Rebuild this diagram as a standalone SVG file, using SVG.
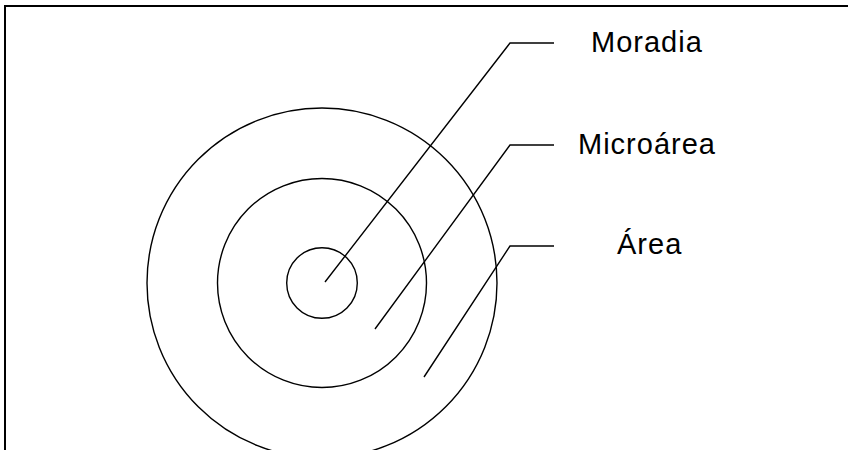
<svg xmlns="http://www.w3.org/2000/svg" width="848" height="450" viewBox="0 0 848 450">
<style>
.ring{fill:none;stroke:#000;stroke-width:1.4}
.lead{fill:none;stroke:#000;stroke-width:1.4}
.lbl{font-family:"Liberation Sans",Arial,sans-serif;font-size:29px;fill:#000;letter-spacing:1px}
</style>
<rect x="0" y="0" width="848" height="450" fill="#fff"/>
<rect x="5" y="6" width="860" height="470" fill="none" stroke="#000" stroke-width="2"/>
<g id="area"><circle class="ring" cx="322" cy="283" r="175"/></g>
<g id="microarea"><circle class="ring" cx="322" cy="283" r="104.5"/></g>
<g id="moradia"><circle class="ring" cx="322" cy="283" r="35.3"/></g>
<g id="connectors">
<polyline class="lead" points="325,282 510,43 554,43"/>
<polyline class="lead" points="375,329 510,145 554,145"/>
<polyline class="lead" points="424,377 510,246 554,246"/>
</g>
<g id="labels">
<text class="lbl" x="591" y="52">Moradia</text>
<text class="lbl" x="578" y="154">Microárea</text>
<text class="lbl" x="617" y="254">Área</text>
</g>
</svg>
